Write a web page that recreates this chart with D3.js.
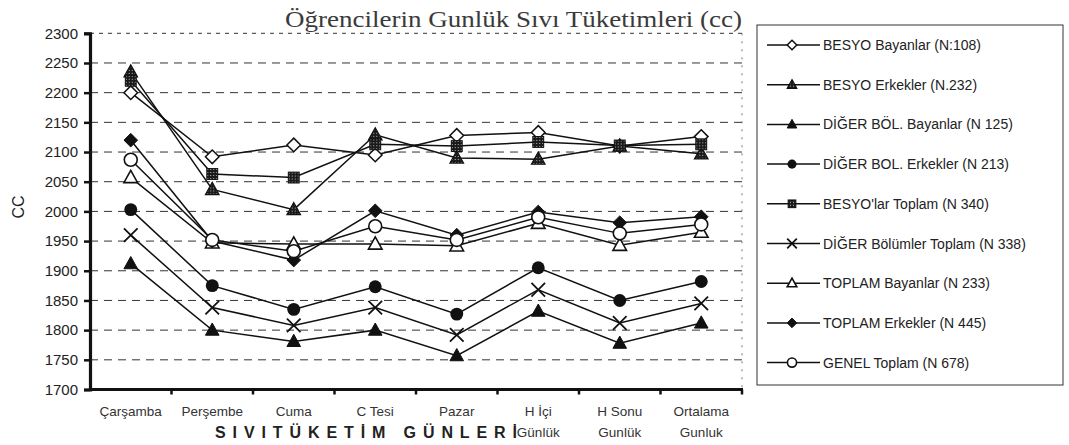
<!DOCTYPE html>
<html lang="tr">
<head>
<meta charset="UTF-8">
<title>Öğrencilerin Gunlük Sıvı Tüketimleri</title>
<script src="https://d3js.org/d3.v7.min.js"></script>
<style>
  body { margin: 0; background: #fff; }
  svg { display: block; }
  .tick-lbl { font-family: "Liberation Sans", Arial, sans-serif; font-size: 15px; fill: #222; }
  .xlbl { font-family: "Liberation Sans", Arial, sans-serif; font-size: 13.5px; fill: #333; }
  .leg { font-family: "Liberation Sans", Arial, sans-serif; font-size: 14px; fill: #222; }
</style>
</head>
<body>
<svg id="chart" width="1069" height="445"></svg>
<script>
// --- data ---
const categories = ["Çarşamba", "Perşembe", "Cuma", "C Tesi", "Pazar", "H İçi|Günlük", "H Sonu|Gunlük", "Ortalama|Gunluk"];
const yTicks = [1700, 1750, 1800, 1850, 1900, 1950, 2000, 2050, 2100, 2150, 2200, 2250, 2300];
const seriesNames = [
  "BESYO Bayanlar (N:108)", "BESYO Erkekler (N.232)", "DİĞER BÖL. Bayanlar (N 125)",
  "DİĞER BOL. Erkekler (N 213)", "BESYO'lar Toplam (N 340)", "DİĞER Bölümler Toplam (N 338)",
  "TOPLAM  Bayanlar (N 233)", "TOPLAM  Erkekler (N 445)", "GENEL Toplam (N 678)"
];
const besyoBayanlar  = [2200, 2092, 2112, 2095, 2128, 2133, 2110, 2126];
const besyoErkekler  = [2235, 2037, 2003, 2129, 2090, 2088, 2110, 2097];
const digerBayanlar  = [1912, 1800, 1781, 1800, 1757, 1832, 1778, 1812];
const digerErkekler  = [2003, 1875, 1835, 1873, 1827, 1905, 1850, 1882];
const besyoToplam    = [2220, 2063, 2057, 2113, 2110, 2117, 2111, 2113];
const digerToplam    = [1960, 1838, 1808, 1838, 1792, 1868, 1812, 1845];
const toplamBayanlar = [2057, 1947, 1945, 1945, 1942, 1980, 1943, 1965];
const toplamErkekler = [2120, 1950, 1918, 2001, 1960, 1999, 1981, 1991];
const genelToplam    = [2087, 1952, 1933, 1975, 1952, 1990, 1963, 1978];

const seriesValues = [besyoBayanlar, besyoErkekler, digerBayanlar, digerErkekler, besyoToplam,
                      digerToplam, toplamBayanlar, toplamErkekler, genelToplam];
const markerTypes = ["diamondOpen", "trianglePat", "triangleFill", "circleFill", "squarePat",
                     "cross", "triangleOpen", "diamondFill", "circleOpen"];

// --- layout ---
const svg = d3.select("#chart");
const plot = { left: 90, right: 742, top: 33.3, bottom: 389.5 };

const x = d3.scaleBand().domain(categories).range([plot.left, plot.right]).paddingInner(0).paddingOuter(0);
const y = d3.scaleLinear().domain([1700, 2300]).range([plot.bottom, plot.top]);

const defs = svg.append("defs");
const pat = defs.append("pattern").attr("id", "dots")
  .attr("width", 3).attr("height", 3).attr("patternUnits", "userSpaceOnUse");
pat.append("rect").attr("width", 3).attr("height", 3).attr("fill", "#1a1a1a");
pat.append("rect").attr("x", 1).attr("y", 1).attr("width", 1).attr("height", 1).attr("fill", "#bbb");

// title
svg.append("text")
  .attr("x", 285).attr("y", 27)
  .attr("textLength", 457).attr("lengthAdjust", "spacingAndGlyphs")
  .style("font-family", "'Liberation Serif', 'Times New Roman', serif")
  .style("font-size", "24px").attr("fill", "#3a3a3a")
  .text("Öğrencilerin Gunlük Sıvı Tüketimleri (cc)");

// grid lines (dashed)
svg.append("g")
  .selectAll("line").data(yTicks.filter(d => d > 1700)).join("line")
  .attr("x1", plot.left).attr("x2", plot.right)
  .attr("y1", d => y(d)).attr("y2", d => y(d))
  .attr("stroke", "#333").attr("stroke-width", 1)
  .attr("stroke-dasharray", d => d === 2300 ? "4,5" : "8,6");

// faint right border
svg.append("line")
  .attr("x1", plot.right).attr("x2", plot.right)
  .attr("y1", plot.top).attr("y2", plot.bottom)
  .attr("stroke", "#777").attr("stroke-width", 1).attr("stroke-dasharray", "2,6");

// y axis
const yAxis = svg.append("g")
  .attr("transform", `translate(${plot.left},0)`)
  .call(d3.axisLeft(y).tickValues(yTicks).tickSize(6).tickPadding(6).tickFormat(d3.format("d")));
yAxis.select(".domain").attr("stroke", "#111").attr("stroke-width", 3.2);
yAxis.selectAll(".tick line").attr("stroke", "#111").attr("stroke-width", 2.5);
yAxis.selectAll(".tick text").attr("class", "tick-lbl").attr("fill", "#222");

// x axis: ticks on band boundaries
const xAxis = svg.append("g").attr("transform", `translate(0,${plot.bottom})`);
xAxis.append("line").attr("x1", plot.left).attr("x2", plot.right + 1)
  .attr("stroke", "#111").attr("stroke-width", 3.2);
xAxis.selectAll("line.bt").data(categories.slice(1).concat(["__end"])).join("line")
  .attr("class", "bt")
  .attr("x1", d => d === "__end" ? plot.right : x(d))
  .attr("x2", d => d === "__end" ? plot.right : x(d))
  .attr("y1", 0).attr("y2", 5)
  .attr("stroke", "#111").attr("stroke-width", 2.5);

const xl = svg.append("g");
categories.forEach(c => {
  const parts = c.split("|");
  parts.forEach((p, i) => {
    xl.append("text").attr("class", "xlbl")
      .attr("x", x(c) + x.bandwidth() / 2)
      .attr("y", 416 + i * 21)
      .attr("text-anchor", "middle")
      .text(p);
  });
});

// x axis title, letter-spaced
svg.append("text")
  .attr("x", 215).attr("y", 438)
  .attr("textLength", 302).attr("lengthAdjust", "spacing")
  .style("font-family", "'Liberation Sans', Arial, sans-serif")
  .style("font-size", "16px").style("font-weight", "bold").attr("fill", "#222")
  .text("SIVITÜKETİM GÜNLERİ");

// y axis title
svg.append("text")
  .attr("transform", "translate(24,207) rotate(-90)")
  .attr("text-anchor", "middle")
  .style("font-family", "'Liberation Sans', Arial, sans-serif")
  .style("font-size", "16px").attr("fill", "#222")
  .text("CC");

// marker drawing
function drawMarker(g, type, r) {
  const tri = `M0,${-r * 1.05}L${r},${r * 0.75}L${-r},${r * 0.75}Z`;
  const dia = `M0,${-r}L${r},0L0,${r}L${-r},0Z`;
  switch (type) {
    case "diamondOpen":
      return g.append("path").attr("d", dia).attr("fill", "#fff").attr("stroke", "#111").attr("stroke-width", 1.5);
    case "diamondFill":
      return g.append("path").attr("d", dia).attr("fill", "#111").attr("stroke", "#111").attr("stroke-width", 1);
    case "trianglePat":
      return g.append("path").attr("d", tri).attr("fill", "url(#dots)").attr("stroke", "#111").attr("stroke-width", 1.2);
    case "triangleFill":
      return g.append("path").attr("d", tri).attr("fill", "#111").attr("stroke", "#111").attr("stroke-width", 1);
    case "triangleOpen":
      return g.append("path").attr("d", tri).attr("fill", "#fff").attr("stroke", "#111").attr("stroke-width", 1.6);
    case "circleFill":
      return g.append("circle").attr("r", r * 0.95).attr("fill", "#111");
    case "circleOpen":
      return g.append("circle").attr("r", r * 0.95).attr("fill", "#fff").attr("stroke", "#111").attr("stroke-width", 1.6);
    case "squarePat":
      return g.append("rect").attr("x", -r * 0.8).attr("y", -r * 0.8).attr("width", r * 1.6).attr("height", r * 1.6)
        .attr("fill", "url(#dots)").attr("stroke", "#111").attr("stroke-width", 1);
    case "cross":
      return g.append("path").attr("d", `M${-r},${-r}L${r},${r}M${r},${-r}L${-r},${r}`)
        .attr("stroke", "#111").attr("stroke-width", 1.8).attr("fill", "none");
  }
}

// lines and markers
const line = d3.line()
  .x((d, i) => x(categories[i]) + x.bandwidth() / 2)
  .y(d => y(d));

const seriesG = svg.append("g");
seriesValues.forEach(vals => {
  seriesG.append("path").datum(vals)
    .attr("d", line)
    .attr("fill", "none").attr("stroke", "#111").attr("stroke-width", 1.5);
});
seriesValues.forEach((vals, s) => {
  vals.forEach((v, i) => {
    const g = seriesG.append("g")
      .attr("transform", `translate(${x(categories[i]) + x.bandwidth() / 2},${y(v)})`);
    drawMarker(g, markerTypes[s], 6.8);
  });
});

// legend
const leg = svg.append("g");
leg.append("rect")
  .attr("x", 757).attr("y", 25).attr("width", 306).attr("height", 360)
  .attr("fill", "none").attr("stroke", "#333").attr("stroke-width", 1);
seriesNames.forEach((name, i) => {
  const cy = 45 + i * 39.7;
  leg.append("line").attr("x1", 767).attr("x2", 820).attr("y1", cy).attr("y2", cy)
    .attr("stroke", "#111").attr("stroke-width", 1.5);
  const g = leg.append("g").attr("transform", `translate(792,${cy})`);
  drawMarker(g, markerTypes[i], 4.8);
  leg.append("text").attr("class", "leg")
    .attr("x", 823).attr("y", cy + 5)
    .text(name);
});
</script>
</body>
</html>
